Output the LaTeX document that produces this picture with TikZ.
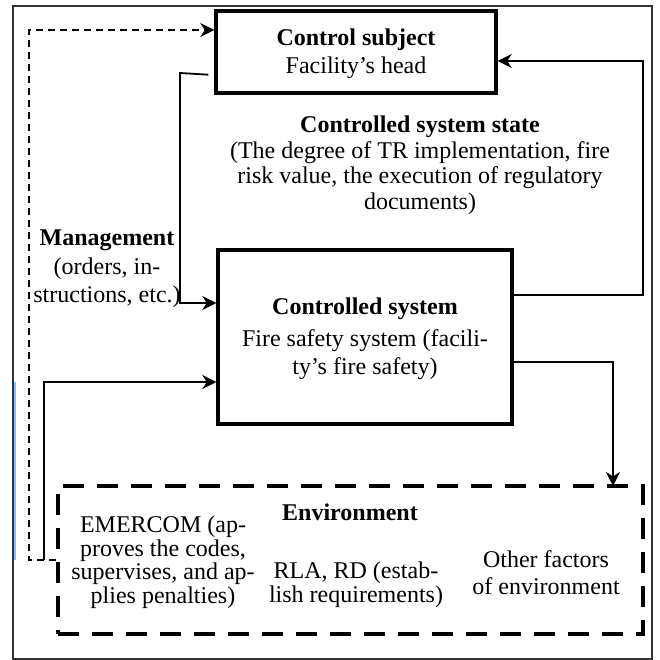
\documentclass[tikz,border=0pt]{standalone}
\usepackage{fontspec}
\setmainfont{Liberation Serif}
\usetikzlibrary{arrows.meta}
\begin{document}
\begin{tikzpicture}[x=1pt,y=-1pt,
  txt/.style={align=center, inner sep=0pt},
  fs/.style={font=\fontsize{24}{#1}\selectfont},
  box/.style={draw, line width=3.4pt, inner sep=0pt},
  envbox/.style={draw, line width=3.4pt, dash pattern=on 21pt off 13pt, inner sep=0pt},
  tip/.style={-{Stealth[length=14pt,width=14pt,inset=4.5pt]}},
  conn/.style={line width=1.8pt, tip},
  dconn/.style={line width=1.6pt, dash pattern=on 7pt off 5pt, tip},
  plain/.style={line width=1.8pt}
]
\useasboundingbox (0,0) rectangle (659,660);
% outer frame
\draw[black!80, line width=1.1pt] (13,6) rectangle (652,659);
\draw[blue!45!cyan!50, line width=1.2pt] (15,382) -- (15,560);

% boxes
\node[box, minimum width=280pt, minimum height=82pt] (cs) at (356,52) {};
\node[box, minimum width=294pt, minimum height=174pt] (sys) at (365,337) {};
\node[envbox, minimum width=585pt, minimum height=148pt] (env) at (350.5,560) {};

% texts
\node[txt, fs=28] (cst) at (356,54) {\textbf{Control subject}\\Facility’s head};
\node[txt, fs=28] (syst) at (365,339)
  {\textbf{Controlled system}\\[4pt]Fire safety system (facili-\\ty’s fire safety)};
\node[txt, fs=25.5] (state) at (420,165)
  {\textbf{Controlled system state}\\(The degree of TR implementation, fire\\risk value, the execution of regulatory\\documents)};
\node[txt, fs=28.5] (mgmt) at (107,269)
  {\textbf{Management}\\(orders, in-\\structions, etc.)};
\node[txt, fs=24] (envt) at (350,512) {\textbf{Environment}};
\node[txt, fs=23.5] (emer) at (163,562)
  {EMERCOM (ap-\\proves the codes,\\supervises, and ap-\\plies penalties)};
\node[txt, fs=24] (rla) at (356,585) {RLA, RD (estab-\\lish requirements)};
\node[txt, fs=27] (oth) at (546,573) {Other factors\\of environment};

% connectors
\coordinate (j) at (44,560);
\draw[dconn] (env.west) -- (29,560) -- (29,30) -- (cs.west |- 0,30);
\draw[conn] ([shift={(-6,-20)}]cs.south west) -- (180,73) -- (180,303) -- (sys.west |- 0,303);
\draw[conn] (j) -- (44,382) -- (sys.west |- 0,382);
\draw[conn] (sys.east |- 0,295) -- (643,295) -- (643,61) -- (cs.east |- 0,61);
\draw[conn] (sys.east |- 0,362) -- (613,362) -- (613,486);
\end{tikzpicture}
\end{document}
